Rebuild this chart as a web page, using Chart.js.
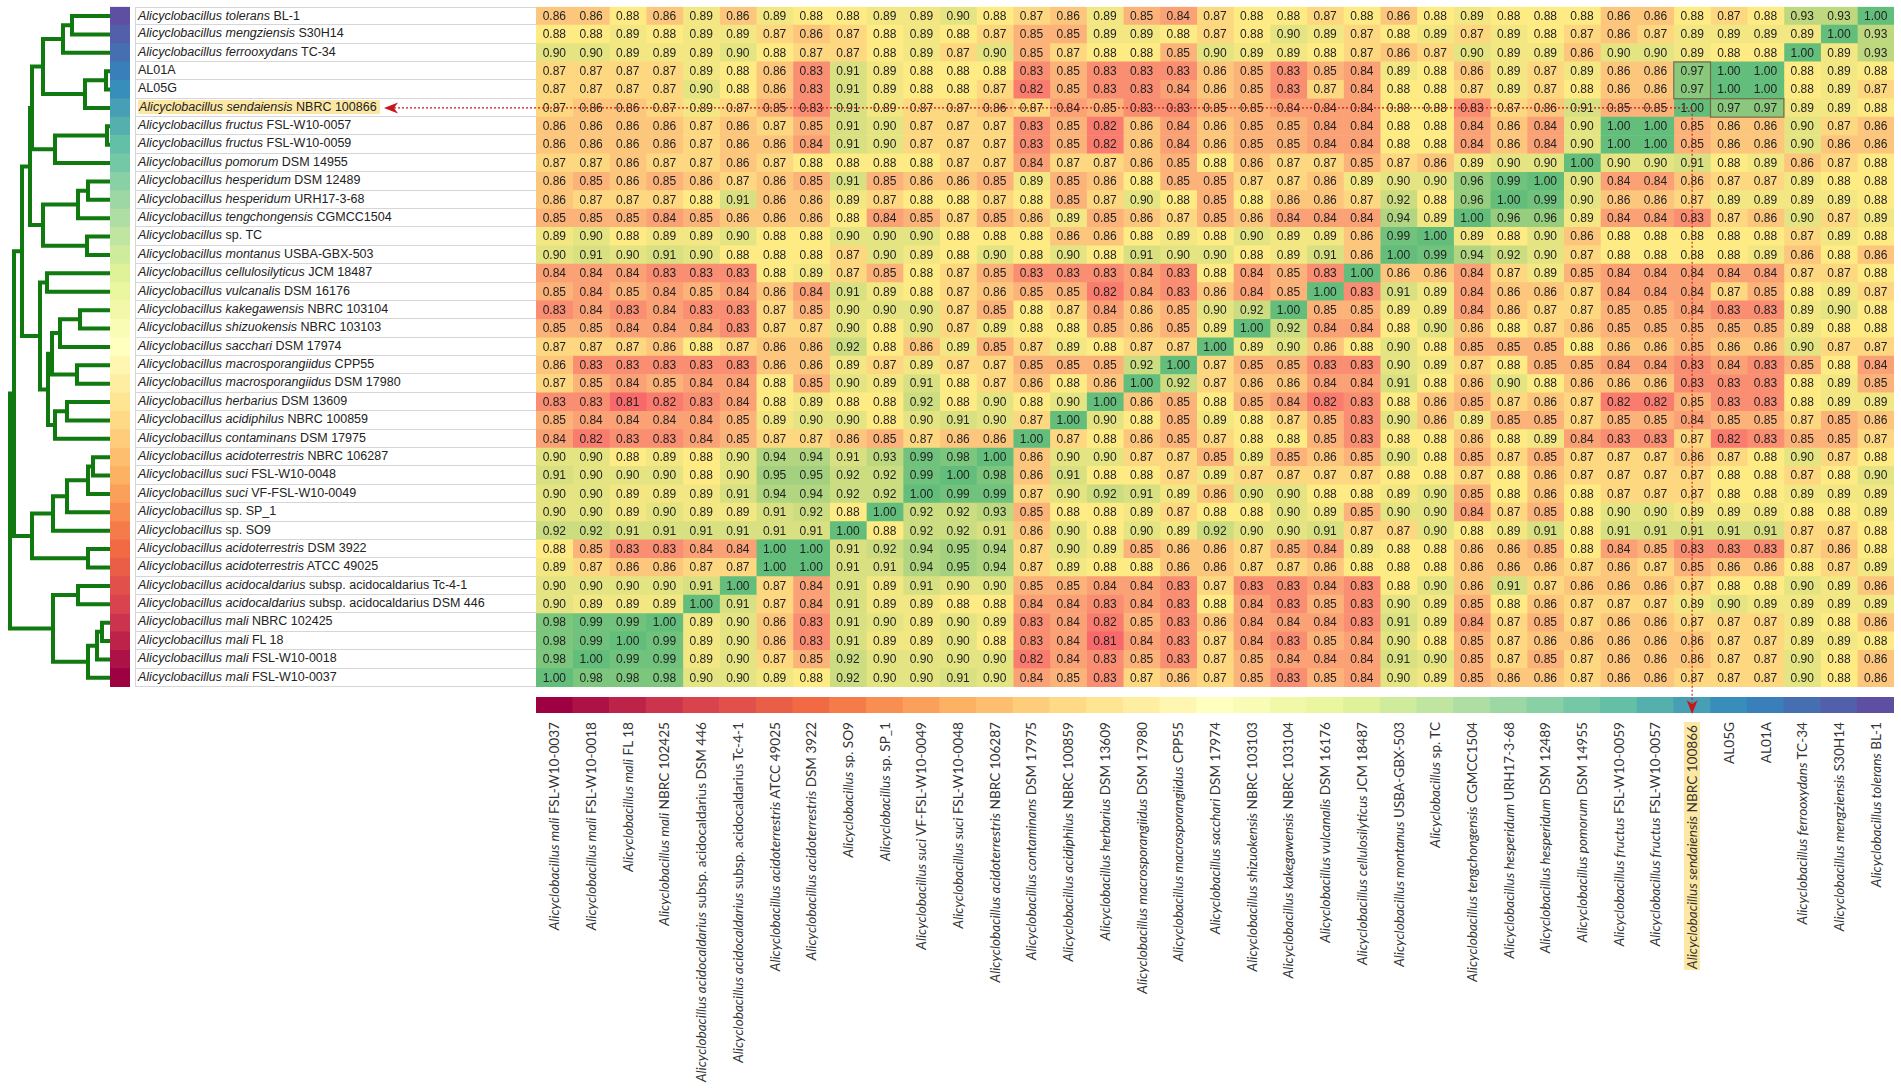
<!DOCTYPE html>
<html>
<head>
<meta charset="utf-8">
<title>ANI heatmap - Alicyclobacillus</title>
<script src="https://cdn.jsdelivr.net/npm/chart.js@4.4.1/dist/chart.umd.min.js"></script>
<style>
    body { margin: 0; background: #fff; width: 1901px; height: 1090px; overflow: hidden; position: relative; }
    canvas { position: absolute; }
    .rowLabel {
        position: absolute; left: 135px; width: 401px; box-sizing: border-box;
        border-left: 1px solid #d6d6d6; border-bottom: 1px solid #d6d6d6;
        font: 12.5px "Liberation Sans", Arial, sans-serif; color: #222;
        padding-left: 2px; white-space: nowrap; background: #fff;
    }
    .colLabel {
        position: absolute; white-space: nowrap; transform-origin: 0 0;
        transform: rotate(-90deg) translate(-100%, -50%);
        font: 13.6px Lato, "Open Sans", sans-serif; color: #333; line-height: 16px;
    }
    .hl { background: #fde7a4; padding: 0 3px 0 1px; }
</style>
</head>
<body>

<canvas id="dendro" width="104" height="694" style="left:8px;top:0"></canvas>
<canvas id="rowStrip" width="20" height="694" style="left:110px;top:0"></canvas>
<div id="labels"></div>
<canvas id="colStrip" width="1358" height="16" style="left:536px;top:697px"></canvas>
<canvas id="heat" width="1901" height="730" style="left:0;top:0"></canvas>

<script>
// =====================================
// Data
// =====================================

// row order (top to bottom); the columns are the same strains in reverse
const rowItalic = [
    "Alicyclobacillus tolerans", "Alicyclobacillus mengziensis", "Alicyclobacillus ferrooxydans",
    "", "", "Alicyclobacillus sendaiensis",
    "Alicyclobacillus fructus", "Alicyclobacillus fructus", "Alicyclobacillus pomorum",
    "Alicyclobacillus hesperidum", "Alicyclobacillus hesperidum", "Alicyclobacillus tengchongensis",
    "Alicyclobacillus", "Alicyclobacillus montanus", "Alicyclobacillus cellulosilyticus",
    "Alicyclobacillus vulcanalis", "Alicyclobacillus kakegawensis", "Alicyclobacillus shizuokensis",
    "Alicyclobacillus sacchari", "Alicyclobacillus macrosporangiidus", "Alicyclobacillus macrosporangiidus",
    "Alicyclobacillus herbarius", "Alicyclobacillus acidiphilus", "Alicyclobacillus contaminans",
    "Alicyclobacillus acidoterrestris", "Alicyclobacillus suci", "Alicyclobacillus suci",
    "Alicyclobacillus", "Alicyclobacillus", "Alicyclobacillus acidoterrestris",
    "Alicyclobacillus acidoterrestris", "Alicyclobacillus acidocaldarius", "Alicyclobacillus acidocaldarius",
    "Alicyclobacillus mali", "Alicyclobacillus mali", "Alicyclobacillus mali", "Alicyclobacillus mali"
];

const rowStrain = [
    "BL-1", "S30H14", "TC-34",
    "AL01A", "AL05G", "NBRC 100866",
    "FSL-W10-0057", "FSL-W10-0059", "DSM 14955",
    "DSM 12489", "URH17-3-68", "CGMCC1504",
    "sp. TC", "USBA-GBX-503", "JCM 18487",
    "DSM 16176", "NBRC 103104", "NBRC 103103",
    "DSM 17974", "CPP55", "DSM 17980",
    "DSM 13609", "NBRC 100859", "DSM 17975",
    "NBRC 106287", "FSL-W10-0048", "VF-FSL-W10-0049",
    "sp. SP_1", "sp. SO9", "DSM 3922",
    "ATCC 49025", "subsp. acidocaldarius Tc-4-1", "subsp. acidocaldarius DSM 446",
    "NBRC 102425", "FL 18", "FSL-W10-0018", "FSL-W10-0037"
];

// highlighted query strain (row index)
const queryRow = 5;

// ANI values, one array per row, columns left to right
const ani = [
    [0.86,0.86,0.88,0.86,0.89,0.86,0.89,0.88,0.88,0.89,0.89, 0.90,0.88,0.87,0.86,0.89,0.85,0.84,0.87,0.88,0.88,0.87,0.88, 0.86,0.88,0.89,0.88,0.88,0.88,0.86,0.86,0.88,0.87,0.88,0.93,0.93,1.00],
    [0.88,0.88,0.89,0.88,0.89,0.89,0.87,0.86,0.87,0.88,0.89, 0.88,0.87,0.85,0.85,0.89,0.89,0.88,0.87,0.88,0.90,0.89,0.87, 0.88,0.89,0.87,0.89,0.88,0.87,0.86,0.87,0.89,0.89,0.89,0.89,1.00,0.93],
    [0.90,0.90,0.89,0.89,0.89,0.90,0.88,0.87,0.87,0.88,0.89, 0.87,0.90,0.85,0.87,0.88,0.88,0.85,0.90,0.89,0.89,0.88,0.87, 0.86,0.87,0.90,0.89,0.89,0.86,0.90,0.90,0.89,0.88,0.88,1.00,0.89,0.93],
    [0.87,0.87,0.87,0.87,0.89,0.88,0.86,0.83,0.91,0.89,0.88, 0.88,0.88,0.83,0.85,0.83,0.83,0.83,0.86,0.85,0.83,0.85,0.84, 0.89,0.88,0.86,0.89,0.87,0.89,0.86,0.86,0.97,1.00,1.00,0.88,0.89,0.88],
    [0.87,0.87,0.87,0.87,0.90,0.88,0.86,0.83,0.91,0.89,0.88, 0.88,0.87,0.82,0.85,0.83,0.83,0.84,0.86,0.85,0.83,0.87,0.84, 0.88,0.88,0.87,0.89,0.87,0.88,0.86,0.86,0.97,1.00,1.00,0.88,0.89,0.87],
    [0.87,0.86,0.86,0.87,0.89,0.87,0.85,0.83,0.91,0.89,0.87, 0.87,0.86,0.87,0.84,0.85,0.83,0.83,0.85,0.85,0.84,0.84,0.84, 0.88,0.88,0.83,0.87,0.86,0.91,0.85,0.85,1.00,0.97,0.97,0.89,0.89,0.88],
    [0.86,0.86,0.86,0.86,0.87,0.86,0.87,0.85,0.91,0.90,0.87, 0.87,0.87,0.83,0.85,0.82,0.86,0.84,0.86,0.85,0.85,0.84,0.84, 0.88,0.88,0.84,0.86,0.84,0.90,1.00,1.00,0.85,0.86,0.86,0.90,0.87,0.86],
    [0.86,0.86,0.86,0.86,0.87,0.86,0.86,0.84,0.91,0.90,0.87, 0.87,0.87,0.83,0.85,0.82,0.86,0.84,0.86,0.85,0.85,0.84,0.84, 0.88,0.88,0.84,0.86,0.84,0.90,1.00,1.00,0.85,0.86,0.86,0.90,0.86,0.86],
    [0.87,0.87,0.86,0.87,0.87,0.86,0.87,0.88,0.88,0.88,0.88, 0.87,0.87,0.84,0.87,0.87,0.86,0.85,0.88,0.86,0.87,0.87,0.85, 0.87,0.86,0.89,0.90,0.90,1.00,0.90,0.90,0.91,0.88,0.89,0.86,0.87,0.88],
    [0.86,0.85,0.86,0.85,0.86,0.87,0.86,0.85,0.91,0.85,0.86, 0.86,0.85,0.89,0.85,0.86,0.88,0.85,0.85,0.87,0.87,0.86,0.89, 0.90,0.90,0.96,0.99,1.00,0.90,0.84,0.84,0.86,0.87,0.87,0.89,0.88,0.88],
    [0.86,0.87,0.87,0.87,0.88,0.91,0.86,0.86,0.89,0.87,0.88, 0.88,0.87,0.88,0.85,0.87,0.90,0.88,0.85,0.88,0.86,0.86,0.87, 0.92,0.88,0.96,1.00,0.99,0.90,0.86,0.86,0.87,0.89,0.89,0.89,0.89,0.88],
    [0.85,0.85,0.85,0.84,0.85,0.86,0.86,0.86,0.88,0.84,0.85, 0.87,0.85,0.86,0.89,0.85,0.86,0.87,0.85,0.86,0.84,0.84,0.84, 0.94,0.89,1.00,0.96,0.96,0.89,0.84,0.84,0.83,0.87,0.86,0.90,0.87,0.89],
    [0.89,0.90,0.88,0.89,0.89,0.90,0.88,0.88,0.90,0.90,0.90, 0.88,0.88,0.88,0.86,0.86,0.88,0.89,0.88,0.90,0.89,0.89,0.86, 0.99,1.00,0.89,0.88,0.90,0.86,0.88,0.88,0.88,0.88,0.88,0.87,0.89,0.88],
    [0.90,0.91,0.90,0.91,0.90,0.88,0.88,0.88,0.87,0.90,0.89, 0.88,0.90,0.88,0.90,0.88,0.91,0.90,0.90,0.88,0.89,0.91,0.86, 1.00,0.99,0.94,0.92,0.90,0.87,0.88,0.88,0.88,0.88,0.89,0.86,0.88,0.86],
    [0.84,0.84,0.84,0.83,0.83,0.83,0.88,0.89,0.87,0.85,0.88, 0.87,0.85,0.83,0.83,0.83,0.84,0.83,0.88,0.84,0.85,0.83,1.00, 0.86,0.86,0.84,0.87,0.89,0.85,0.84,0.84,0.84,0.84,0.84,0.87,0.87,0.88],
    [0.85,0.84,0.85,0.84,0.85,0.84,0.86,0.84,0.91,0.89,0.88, 0.87,0.86,0.85,0.85,0.82,0.84,0.83,0.86,0.84,0.85,1.00,0.83, 0.91,0.89,0.84,0.86,0.86,0.87,0.84,0.84,0.84,0.87,0.85,0.88,0.89,0.87],
    [0.83,0.84,0.83,0.84,0.83,0.83,0.87,0.85,0.90,0.90,0.90, 0.87,0.85,0.88,0.87,0.84,0.86,0.85,0.90,0.92,1.00,0.85,0.85, 0.89,0.89,0.84,0.86,0.87,0.87,0.85,0.85,0.84,0.83,0.83,0.89,0.90,0.88],
    [0.85,0.85,0.84,0.84,0.84,0.83,0.87,0.87,0.90,0.88,0.90, 0.87,0.89,0.88,0.88,0.85,0.86,0.85,0.89,1.00,0.92,0.84,0.84, 0.88,0.90,0.86,0.88,0.87,0.86,0.85,0.85,0.85,0.85,0.85,0.89,0.88,0.88],
    [0.87,0.87,0.87,0.86,0.88,0.87,0.86,0.86,0.92,0.88,0.86, 0.89,0.85,0.87,0.89,0.88,0.87,0.87,1.00,0.89,0.90,0.86,0.88, 0.90,0.88,0.85,0.85,0.85,0.88,0.86,0.86,0.85,0.86,0.86,0.90,0.87,0.87],
    [0.86,0.83,0.83,0.83,0.83,0.83,0.86,0.86,0.89,0.87,0.89, 0.87,0.87,0.85,0.85,0.85,0.92,1.00,0.87,0.85,0.85,0.83,0.83, 0.90,0.89,0.87,0.88,0.85,0.85,0.84,0.84,0.83,0.84,0.83,0.85,0.88,0.84],
    [0.87,0.85,0.84,0.85,0.84,0.84,0.88,0.85,0.90,0.89,0.91, 0.88,0.87,0.86,0.88,0.86,1.00,0.92,0.87,0.86,0.86,0.84,0.84, 0.91,0.88,0.86,0.90,0.88,0.86,0.86,0.86,0.83,0.83,0.83,0.88,0.89,0.85],
    [0.83,0.83,0.81,0.82,0.83,0.84,0.88,0.89,0.88,0.88,0.92, 0.88,0.90,0.88,0.90,1.00,0.86,0.85,0.88,0.85,0.84,0.82,0.83, 0.88,0.86,0.85,0.87,0.86,0.87,0.82,0.82,0.85,0.83,0.83,0.88,0.89,0.89],
    [0.85,0.84,0.84,0.84,0.84,0.85,0.89,0.90,0.90,0.88,0.90, 0.91,0.90,0.87,1.00,0.90,0.88,0.85,0.89,0.88,0.87,0.85,0.83, 0.90,0.86,0.89,0.85,0.85,0.87,0.85,0.85,0.84,0.85,0.85,0.87,0.85,0.86],
    [0.84,0.82,0.83,0.83,0.84,0.85,0.87,0.87,0.86,0.85,0.87, 0.86,0.86,1.00,0.87,0.88,0.86,0.85,0.87,0.88,0.88,0.85,0.83, 0.88,0.88,0.86,0.88,0.89,0.84,0.83,0.83,0.87,0.82,0.83,0.85,0.85,0.87],
    [0.90,0.90,0.88,0.89,0.88,0.90,0.94,0.94,0.91,0.93,0.99, 0.98,1.00,0.86,0.90,0.90,0.87,0.87,0.85,0.89,0.85,0.86,0.85, 0.90,0.88,0.85,0.87,0.85,0.87,0.87,0.87,0.86,0.87,0.88,0.90,0.87,0.88],
    [0.91,0.90,0.90,0.90,0.88,0.90,0.95,0.95,0.92,0.92,0.99, 1.00,0.98,0.86,0.91,0.88,0.88,0.87,0.89,0.87,0.87,0.87,0.87, 0.88,0.88,0.87,0.88,0.86,0.87,0.87,0.87,0.87,0.88,0.88,0.87,0.88,0.90],
    [0.90,0.90,0.89,0.89,0.89,0.91,0.94,0.94,0.92,0.92,1.00, 0.99,0.99,0.87,0.90,0.92,0.91,0.89,0.86,0.90,0.90,0.88,0.88, 0.89,0.90,0.85,0.88,0.86,0.88,0.87,0.87,0.87,0.88,0.88,0.89,0.89,0.89],
    [0.90,0.90,0.89,0.90,0.89,0.89,0.91,0.92,0.88,1.00,0.92, 0.92,0.93,0.85,0.88,0.88,0.89,0.87,0.88,0.88,0.90,0.89,0.85, 0.90,0.90,0.84,0.87,0.85,0.88,0.90,0.90,0.89,0.89,0.89,0.88,0.88,0.89],
    [0.92,0.92,0.91,0.91,0.91,0.91,0.91,0.91,1.00,0.88,0.92, 0.92,0.91,0.86,0.90,0.88,0.90,0.89,0.92,0.90,0.90,0.91,0.87, 0.87,0.90,0.88,0.89,0.91,0.88,0.91,0.91,0.91,0.91,0.91,0.87,0.87,0.88],
    [0.88,0.85,0.83,0.83,0.84,0.84,1.00,1.00,0.91,0.92,0.94, 0.95,0.94,0.87,0.90,0.89,0.85,0.86,0.86,0.87,0.85,0.84,0.89, 0.88,0.88,0.86,0.86,0.85,0.88,0.84,0.85,0.83,0.83,0.83,0.87,0.86,0.88],
    [0.89,0.87,0.86,0.86,0.87,0.87,1.00,1.00,0.91,0.91,0.94, 0.95,0.94,0.87,0.89,0.88,0.88,0.86,0.86,0.87,0.87,0.86,0.88, 0.88,0.88,0.86,0.86,0.86,0.87,0.86,0.87,0.85,0.86,0.86,0.88,0.87,0.89],
    [0.90,0.90,0.90,0.90,0.91,1.00,0.87,0.84,0.91,0.89,0.91, 0.90,0.90,0.85,0.85,0.84,0.84,0.83,0.87,0.83,0.83,0.84,0.83, 0.88,0.90,0.86,0.91,0.87,0.86,0.86,0.86,0.87,0.88,0.88,0.90,0.89,0.86],
    [0.90,0.89,0.89,0.89,1.00,0.91,0.87,0.84,0.91,0.89,0.89, 0.88,0.88,0.84,0.84,0.83,0.84,0.83,0.88,0.84,0.83,0.85,0.83, 0.90,0.89,0.85,0.88,0.86,0.87,0.87,0.87,0.89,0.90,0.89,0.89,0.89,0.89],
    [0.98,0.99,0.99,1.00,0.89,0.90,0.86,0.83,0.91,0.90,0.89, 0.90,0.89,0.83,0.84,0.82,0.85,0.83,0.86,0.84,0.84,0.84,0.83, 0.91,0.89,0.84,0.87,0.85,0.87,0.86,0.86,0.87,0.87,0.87,0.89,0.88,0.86],
    [0.98,0.99,1.00,0.99,0.89,0.90,0.86,0.83,0.91,0.89,0.89, 0.90,0.88,0.83,0.84,0.81,0.84,0.83,0.87,0.84,0.83,0.85,0.84, 0.90,0.88,0.85,0.87,0.86,0.86,0.86,0.86,0.86,0.87,0.87,0.89,0.89,0.88],
    [0.98,1.00,0.99,0.99,0.89,0.90,0.87,0.85,0.92,0.90,0.90, 0.90,0.90,0.82,0.84,0.83,0.85,0.83,0.87,0.85,0.84,0.84,0.84, 0.91,0.90,0.85,0.87,0.85,0.87,0.86,0.86,0.86,0.87,0.87,0.90,0.88,0.86],
    [1.00,0.98,0.98,0.98,0.90,0.90,0.89,0.88,0.92,0.90,0.90, 0.91,0.90,0.84,0.85,0.83,0.87,0.86,0.87,0.85,0.83,0.85,0.84, 0.90,0.89,0.85,0.86,0.86,0.87,0.86,0.86,0.87,0.87,0.87,0.90,0.88,0.86]
];

// dendrogram: [left, right, height], leaves are row indices (0 = top row)
const tree =
    [[[[[[[[0, 1, 38], 2, 47], [[3, 4, 4], 5, 25], 67],
          [[6, 7, 3], 8, 55], 78],
         [[[9, 10, 22], 11, 32], [12, 13, 23], 67], 80],
        [[14, 15, 63],
         [[[[16, 17, 30], 18, 50], [19, 20, 33], 58], [[21, 22, 43], 23, 55], 62], 70], 88],
       [[[[[24, 25, 17], 26, 22], 27, 43], 28, 57], [29, 30, 22], 78], 96],
      [[31, 32, 32], [[[33, 34, 8], 35, 13], 36, 22], 57], 100];

const rowNames = rowItalic.map((s, i) => (s + " " + rowStrain[i]).trim());
const colNames = rowNames.slice().reverse();
const n = rowNames.length;

// =====================================
// Colours
// =====================================

const heatLow = [248, 105, 107];
const heatMid = [255, 235, 132];
const heatHigh = [99, 190, 123];
const allValues = ani.flat();
const vMin = Math.min(...allValues);
const vMax = Math.max(...allValues);
const vMid = 0.88;

function mix(a, b, t) {
    t = Math.max(0, Math.min(1, t));
    return "rgb(" + a.map((c, k) => Math.round(c + (b[k] - c) * t)).join(",") + ")";
}

function heatColor(v) {
    if (v <= vMid) return mix(heatLow, heatMid, (v - vMin) / (vMid - vMin));
    return mix(heatMid, heatHigh, (v - vMid) / (vMax - vMid));
}

const spectral = ["#9e0142", "#d53e4f", "#f46d43", "#fdae61", "#fee08b", "#ffffbf",
                  "#e6f598", "#abdda4", "#66c2a5", "#3288bd", "#5e4fa2"];

function hexRgb(h) {
    return [1, 3, 5].map(k => parseInt(h.substr(k, 2), 16));
}

function spectralColor(t) {
    const p = t * (spectral.length - 1);
    const k = Math.min(Math.floor(p), spectral.length - 2);
    return mix(hexRgb(spectral[k]), hexRgb(spectral[k + 1]), p - k);
}

// column j (0 = left) gets spectral(j / (n-1)); row i is column n-1-i
const stripColors = colNames.map((_, j) => spectralColor(j / (n - 1)));

// =====================================
// Dendrogram
// =====================================

const dendroSets = [];

function walk(node) {
    if (typeof node === "number") return { h: 0, y: node };
    const a = walk(node[0]);
    const b = walk(node[1]);
    const h = node[2];
    dendroSets.push({
        data: [{ x: a.h, y: a.y }, { x: h, y: a.y }, { x: h, y: b.y }, { x: b.h, y: b.y }],
        showLine: true,
        borderColor: "#107a10",
        borderWidth: 4,
        borderJoinStyle: "miter",
        pointRadius: 0,
        tension: 0,
        clip: false
    });
    return { h: h, y: (a.y + b.y) / 2 };
}

walk(tree);

const rowPadding = { top: 6.8, bottom: 7 };

new Chart(document.getElementById("dendro"), {
    type: "scatter",
    data: { datasets: dendroSets },
    options: {
        responsive: false,
        animation: false,
        events: [],
        layout: { padding: { top: rowPadding.top, bottom: rowPadding.bottom, left: 0, right: 0 } },
        plugins: { legend: { display: false }, tooltip: { enabled: false } },
        scales: {
            x: { type: "linear", min: -2, max: 102, reverse: true, display: false },
            y: { type: "linear", min: -0.5, max: n - 0.5, reverse: true, display: false }
        }
    }
});

// =====================================
// Colour strips
// =====================================

new Chart(document.getElementById("rowStrip"), {
    type: "bar",
    data: {
        labels: rowNames,
        datasets: [{
            data: rowNames.map(() => 1),
            backgroundColor: rowNames.map((_, i) => stripColors[n - 1 - i]),
            borderWidth: 0,
            barPercentage: 1,
            categoryPercentage: 1
        }]
    },
    options: {
        indexAxis: "y",
        responsive: false,
        animation: false,
        events: [],
        layout: { padding: { top: rowPadding.top, bottom: rowPadding.bottom, left: 0, right: 0 } },
        plugins: { legend: { display: false }, tooltip: { enabled: false } },
        scales: {
            x: { min: 0, max: 1, display: false },
            y: { display: false }
        }
    }
});

new Chart(document.getElementById("colStrip"), {
    type: "bar",
    data: {
        labels: colNames,
        datasets: [{
            data: colNames.map(() => 1),
            backgroundColor: stripColors,
            borderWidth: 0,
            barPercentage: 1,
            categoryPercentage: 1
        }]
    },
    options: {
        responsive: false,
        animation: false,
        events: [],
        layout: { padding: 0 },
        plugins: { legend: { display: false }, tooltip: { enabled: false } },
        scales: {
            x: { display: false },
            y: { min: 0, max: 1, display: false }
        }
    }
});

// =====================================
// Heatmap
// =====================================

const cellText = {
    id: "cellText",
    afterDatasetsDraw(chart) {
        const ctx = chart.ctx;
        ctx.save();
        ctx.font = '12px "Liberation Sans", Arial, sans-serif';
        ctx.fillStyle = "#222";
        ctx.textAlign = "center";
        ctx.textBaseline = "middle";
        chart.data.datasets.forEach((ds, j) => {
            chart.getDatasetMeta(j).data.forEach((bar, i) => {
                const p = bar.getCenterPoint();
                ctx.fillText(ani[i][j].toFixed(2), p.x, p.y + 0.5);
            });
        });
        ctx.restore();
    }
};

// boxes around the closest hits and the red pointer to the query strain
const queryMarks = {
    id: "queryMarks",
    afterDraw(chart) {
        const ctx = chart.ctx;
        const x = chart.scales.x;
        const y = chart.scales.y;
        const half = (y.getPixelForValue(1) - y.getPixelForValue(0)) / 2;
        const qCol = n - 1 - queryRow;

        ctx.save();
        ctx.strokeStyle = "#7a6748";
        ctx.lineWidth = 1.2;
        ctx.strokeRect(x.getPixelForValue(qCol), y.getPixelForValue(3) - half,
                       x.getPixelForValue(qCol + 1) - x.getPixelForValue(qCol), 4 * half);
        ctx.strokeRect(x.getPixelForValue(qCol + 1), y.getPixelForValue(queryRow) - half,
                       x.getPixelForValue(qCol + 3) - x.getPixelForValue(qCol + 1), 2 * half);

        const yq = y.getPixelForValue(queryRow);
        const xq = x.getPixelForValue(qCol + 0.5);
        ctx.strokeStyle = "#c8161d";
        ctx.fillStyle = "#c8161d";
        ctx.lineWidth = 1.1;
        ctx.setLineDash([2, 2]);
        ctx.beginPath();
        ctx.moveTo(394, yq);
        ctx.lineTo(xq, yq);
        ctx.lineTo(xq, 703);
        ctx.stroke();
        ctx.setLineDash([]);

        ctx.beginPath();
        ctx.moveTo(384, yq);
        ctx.lineTo(398, yq - 5.5);
        ctx.lineTo(394, yq);
        ctx.lineTo(398, yq + 5.5);
        ctx.closePath();
        ctx.fill();

        ctx.beginPath();
        ctx.moveTo(xq, 714);
        ctx.lineTo(xq - 5.5, 700);
        ctx.lineTo(xq, 704);
        ctx.lineTo(xq + 5.5, 700);
        ctx.closePath();
        ctx.fill();
        ctx.restore();
    }
};

const heatChart = new Chart(document.getElementById("heat"), {
    type: "bar",
    data: {
        labels: rowNames,
        datasets: colNames.map((name, j) => ({
            label: name,
            data: rowNames.map(() => 1),
            backgroundColor: ctx => heatColor(ani[ctx.dataIndex][j]),
            borderWidth: 0,
            barPercentage: 1,
            categoryPercentage: 1
        }))
    },
    options: {
        indexAxis: "y",
        responsive: false,
        animation: false,
        events: [],
        layout: { padding: { left: 536, top: rowPadding.top, right: 1901 - 1894, bottom: 730 - 687 } },
        plugins: { legend: { display: false }, tooltip: { enabled: false } },
        scales: {
            x: { type: "linear", stacked: true, min: 0, max: n, display: false },
            y: { stacked: true, display: false }
        }
    },
    plugins: [cellText, queryMarks]
});

// =====================================
// Labels (placed with the heatmap scales)
// =====================================

function labelHtml(i) {
    let html = "";
    if (rowItalic[i]) html += "<i>" + rowItalic[i] + "</i> ";
    html += rowStrain[i];
    return html;
}

const holder = document.getElementById("labels");
const ys = heatChart.scales.y;
const xs = heatChart.scales.x;
const rowH = ys.getPixelForValue(1) - ys.getPixelForValue(0);

rowNames.forEach((name, i) => {
    const d = document.createElement("div");
    d.className = "rowLabel";
    d.style.top = (ys.getPixelForValue(i) - rowH / 2) + "px";
    d.style.height = rowH + "px";
    d.style.lineHeight = (rowH - 1) + "px";
    if (i === 0) d.style.borderTop = "1px solid #d6d6d6";
    d.innerHTML = i === queryRow ? '<span class="hl">' + labelHtml(i) + "</span>" : labelHtml(i);
    holder.appendChild(d);
});

colNames.forEach((name, j) => {
    const i = n - 1 - j;
    const d = document.createElement("div");
    d.className = "colLabel";
    d.style.left = xs.getPixelForValue(j + 0.5) + "px";
    d.style.top = "722px";
    d.innerHTML = i === queryRow ? '<span class="hl">' + labelHtml(i) + "</span>" : labelHtml(i);
    holder.appendChild(d);
});
</script>
</body>
</html>
